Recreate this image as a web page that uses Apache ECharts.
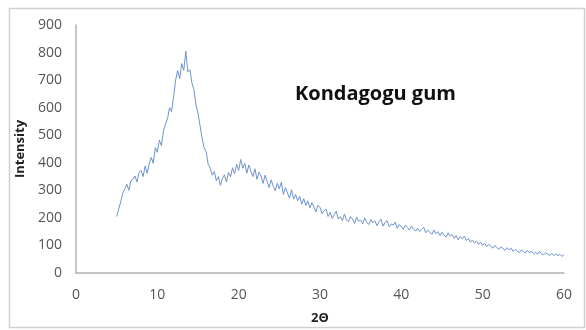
<!DOCTYPE html>
<html>
<head>
<meta charset="utf-8">
<script src="https://cdn.jsdelivr.net/npm/echarts@6/dist/echarts.min.js"></script>
<style>
  html, body { margin: 0; padding: 0; background: #ffffff; }
  #chart { width: 586px; height: 330px; }
</style>
</head>
<body>
<div id="chart"></div>
<script>
// XRD scan of Kondagogu gum: diffraction angle 2θ (degrees) and intensity (counts)
const angles = [
  5.00, 5.25, 5.50, 5.75, 6.00, 6.25, 6.50, 6.75, 7.00, 7.25, 7.50, 7.75,
  8.00, 8.25, 8.50, 8.75, 9.00, 9.25, 9.50, 9.75, 10.00, 10.25, 10.50, 10.75,
  11.00, 11.25, 11.50, 11.75, 12.00, 12.25, 12.50, 12.75, 13.00, 13.25, 13.50, 13.75,
  14.00, 14.25, 14.50, 14.75, 15.00, 15.25, 15.50, 15.75, 16.00, 16.25, 16.50, 16.75,
  17.00, 17.25, 17.50, 17.75, 18.00, 18.25, 18.50, 18.75, 19.00, 19.25, 19.50, 19.75,
  20.00, 20.25, 20.50, 20.75, 21.00, 21.25, 21.50, 21.75, 22.00, 22.25, 22.50, 22.75,
  23.00, 23.25, 23.50, 23.75, 24.00, 24.25, 24.50, 24.75, 25.00, 25.25, 25.50, 25.75,
  26.00, 26.25, 26.50, 26.75, 27.00, 27.25, 27.50, 27.75, 28.00, 28.25, 28.50, 28.75,
  29.00, 29.25, 29.50, 29.75, 30.00, 30.25, 30.50, 30.75, 31.00, 31.25, 31.50, 31.75,
  32.00, 32.25, 32.50, 32.75, 33.00, 33.25, 33.50, 33.75, 34.00, 34.25, 34.50, 34.75,
  35.00, 35.25, 35.50, 35.75, 36.00, 36.25, 36.50, 36.75, 37.00, 37.25, 37.50, 37.75,
  38.00, 38.25, 38.50, 38.75, 39.00, 39.25, 39.50, 39.75, 40.00, 40.25, 40.50, 40.75,
  41.00, 41.25, 41.50, 41.75, 42.00, 42.25, 42.50, 42.75, 43.00, 43.25, 43.50, 43.75,
  44.00, 44.25, 44.50, 44.75, 45.00, 45.25, 45.50, 45.75, 46.00, 46.25, 46.50, 46.75,
  47.00, 47.25, 47.50, 47.75, 48.00, 48.25, 48.50, 48.75, 49.00, 49.25, 49.50, 49.75,
  50.00, 50.25, 50.50, 50.75, 51.00, 51.25, 51.50, 51.75, 52.00, 52.25, 52.50, 52.75,
  53.00, 53.25, 53.50, 53.75, 54.00, 54.25, 54.50, 54.75, 55.00, 55.25, 55.50, 55.75,
  56.00, 56.25, 56.50, 56.75, 57.00, 57.25, 57.50, 57.75, 58.00, 58.25, 58.50, 58.75,
  59.00, 59.25, 59.50, 59.75, 60.00
];

const intensity = [
  205, 232, 258, 290, 305, 322, 300, 335, 340, 352, 330, 365,
  372, 350, 388, 362, 395, 420, 398, 455, 438, 482, 462, 515,
  540, 560, 600, 585, 640, 700, 735, 705, 760, 735, 805, 730,
  738, 690, 665, 610, 580, 535, 490, 455, 440, 395, 380, 355,
  368, 335, 350, 318, 342, 356, 330, 365, 350, 382, 360, 395,
  372, 412, 380, 398, 362, 392, 370, 350, 378, 340, 366, 352,
  325, 355, 332, 310, 338, 315, 298, 326, 305, 330, 285, 310,
  290, 272, 302, 268, 285, 262, 278, 250, 270, 245, 262, 236,
  255, 240, 222, 246, 238, 215, 226, 232, 205, 220, 198, 212,
  224, 196, 205, 190, 214, 192, 186, 205, 196, 180, 203, 188,
  192, 178, 200, 184, 176, 194, 182, 189, 172, 186, 195, 170,
  184, 190, 168, 178, 174, 185, 162, 176, 168, 158, 174, 165,
  156, 170, 160, 152, 163, 150, 158, 166, 146, 155, 149, 140,
  156, 142, 150, 136, 148, 138, 130, 146, 134, 140, 126, 136,
  120, 132, 124, 134, 118, 126, 112, 120, 108, 116, 104, 112,
  100, 108, 96, 104, 98, 90, 100, 92, 86, 95, 88, 82,
  92, 84, 90, 78, 86, 80, 74, 84, 78, 72, 82, 74,
  79, 70, 76, 68, 78, 70, 66, 74, 68, 64, 72, 63,
  70, 62, 68, 60, 66
];

const xTicks = { min: 0, max: 60, step: 10 };
const yTicks = { min: 0, max: 900, step: 100 };
const titleText = 'Kondagogu gum';
const xName = '2Θ';
const yName = 'Intensity';

const points = angles.map((a, i) => [a, intensity[i]]);

const chart = echarts.init(document.getElementById('chart'), null, { renderer: 'canvas' });

const axisLineStyle = { color: '#b3b3b3', width: 1.5 };
const tickLabelStyle = { color: '#555555', fontSize: 14, fontFamily: 'Open Sans' };

chart.setOption({
  animation: false,
  backgroundColor: '#ffffff',
  title: {
    text: titleText,
    left: 290,
    top: 79,
    textStyle: { fontFamily: 'Open Sans', fontWeight: 'bold', fontSize: 20, color: '#111111' }
  },
  graphic: [
    {
      type: 'rect',
      shape: { x: 9.5, y: 8.5, width: 575, height: 319 },
      style: { fill: 'none', stroke: '#d0d0d0', lineWidth: 1.5 },
      silent: true
    }
  ],
  grid: { left: 76, right: 22, top: 25, bottom: 53 },
  xAxis: {
    type: 'value',
    min: xTicks.min,
    max: xTicks.max,
    interval: xTicks.step,
    name: xName,
    nameLocation: 'middle',
    nameGap: 39,
    nameTextStyle: { fontFamily: 'Open Sans', fontWeight: 'bold', fontSize: 13, color: '#222222' },
    axisLine: { show: true, lineStyle: axisLineStyle },
    axisTick: { show: false },
    splitLine: { show: false },
    axisLabel: Object.assign({ margin: 15 }, tickLabelStyle)
  },
  yAxis: {
    type: 'value',
    min: yTicks.min,
    max: yTicks.max,
    interval: yTicks.step,
    name: yName,
    nameLocation: 'middle',
    nameRotate: 90,
    nameGap: 48,
    nameTextStyle: { fontFamily: 'Open Sans', fontWeight: 'bold', fontSize: 13, color: '#222222' },
    axisLine: { show: true, lineStyle: axisLineStyle },
    axisTick: { show: false },
    splitLine: { show: false },
    axisLabel: Object.assign({ margin: 14 }, tickLabelStyle)
  },
  series: [
    {
      type: 'line',
      data: points,
      showSymbol: false,
      smooth: false,
      lineStyle: { color: '#6f93cc', width: 1 },
      silent: true
    }
  ]
});
</script>
</body>
</html>
